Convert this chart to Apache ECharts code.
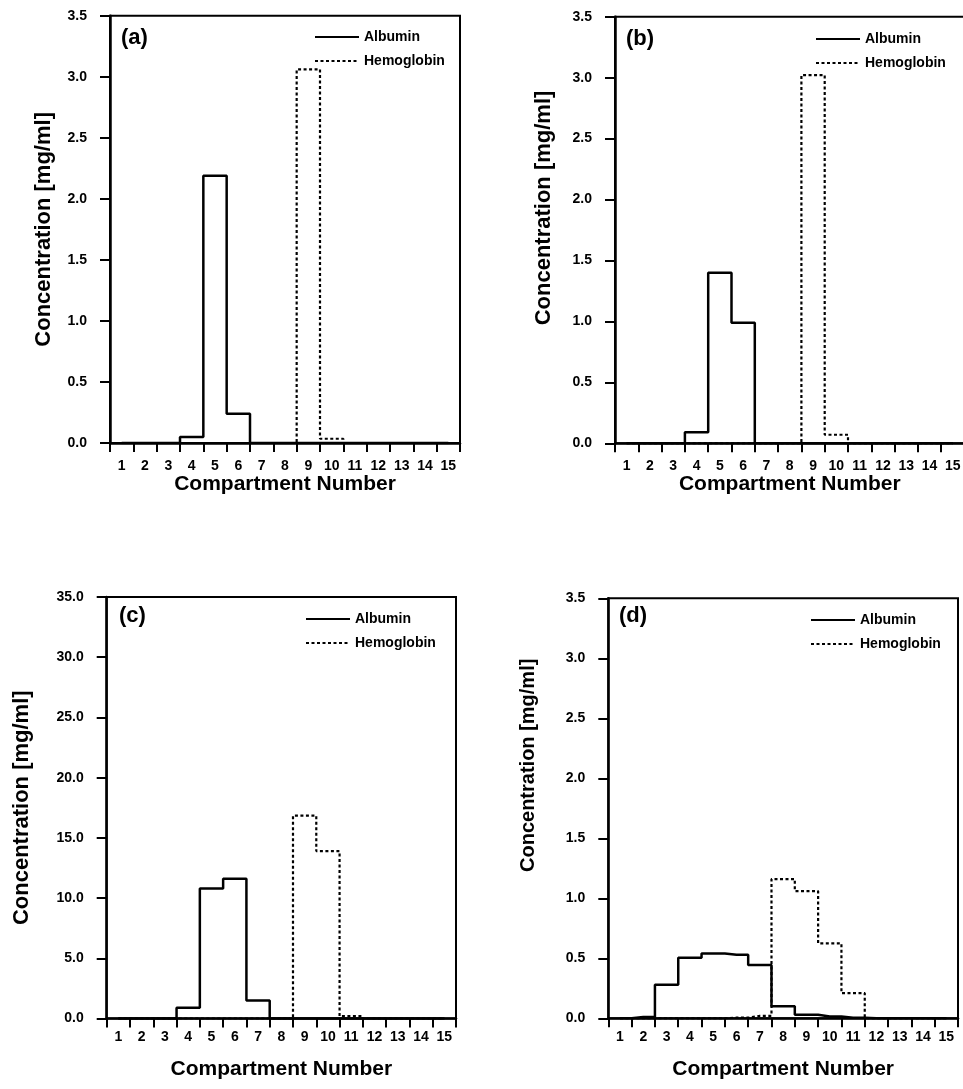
<!DOCTYPE html>
<html>
<head>
<meta charset="utf-8">
<title>Compartment concentration profiles</title>
<script src="https://cdn.jsdelivr.net/npm/echarts@6/dist/echarts.min.js"></script>
<style>
  html, body { margin: 0; padding: 0; background: #fff; }
  #chart { width: 963px; height: 1089px; }
</style>
</head>
<body>
<div id="chart"></div>
<script>
// Compartment numbers along the x axis
const compartments = ['1','2','3','4','5','6','7','8','9','10','11','12','13','14','15'];

// Concentration per compartment [mg/ml]
const albuminA    = [0, 0, 0, 0.05, 2.19, 0.24, 0, 0, 0, 0, 0, 0, 0, 0, 0];
const hemoglobinA = [0, 0, 0, 0, 0, 0, 0, 0, 3.06, 0.035, 0, 0, 0, 0, 0];

const albuminB    = [0, 0, 0, 0.09, 1.40, 0.99, 0, 0, 0, 0, 0, 0, 0, 0, 0];
const hemoglobinB = [0, 0, 0, 0, 0, 0, 0, 0, 3.02, 0.07, 0, 0, 0, 0, 0];

const albuminC    = [0, 0, 0, 0.9, 10.8, 11.6, 1.5, 0, 0, 0, 0, 0, 0, 0, 0];
const hemoglobinC = [0, 0, 0, 0, 0, 0, 0, 0, 16.85, 13.9, 0.2, 0, 0, 0, 0];

const albuminD    = [0, 0.01, 0.28, 0.505, 0.54, 0.53, 0.445, 0.10, 0.03, 0.015, 0.005, 0, 0, 0, 0];
const hemoglobinD = [0, 0, 0, 0, 0, 0.005, 0.02, 1.16, 1.06, 0.625, 0.21, 0, 0, 0, 0];

// Panel letters and y-axis ranges
const panelLabels = ['(a)', '(b)', '(c)', '(d)'];
const yMax = [3.5, 3.5, 35, 3.5];
const yStep = [0.5, 0.5, 5, 0.5];

const seriesNames = ['Albumin', 'Hemoglobin'];
const xTitle = 'Compartment Number';
const yTitle = 'Concentration [mg/ml]';

const FONT = '"Liberation Sans", Arial, Helvetica, sans-serif';

// Layout of each panel
const layout = [
  { grid: { left: 110, top: 15.7, width: 350, height: 427.3 },
    xLabelMargin: 16, xNameGap: 28, yNameGap: 55, yNameShift: 0, yNameSize: 22,
    legend: { left: 314, top: 30 }, tag: { left: 121, top: 27 } },
  { grid: { left: 615, top: 16.7, width: 349.5, height: 426.6 },
    xLabelMargin: 16, xNameGap: 28, yNameGap: 60, yNameShift: 22, yNameSize: 22,
    legend: { left: 815, top: 32 }, tag: { left: 626, top: 28 } },
  { grid: { left: 106.7, top: 597, width: 349.3, height: 421.5 },
    xLabelMargin: 12, xNameGap: 40, yNameGap: 74, yNameShift: 0, yNameSize: 22,
    legend: { left: 305, top: 612 }, tag: { left: 119, top: 605 } },
  { grid: { left: 608.3, top: 598.3, width: 349.7, height: 420 },
    xLabelMargin: 12, xNameGap: 40, yNameGap: 70, yNameShift: 43, yNameSize: 20,
    legend: { left: 810, top: 613 }, tag: { left: 619, top: 605 } }
];

const albumin = [albuminA, albuminB, albuminC, albuminD];
const hemoglobin = [hemoglobinA, hemoglobinB, hemoglobinC, hemoglobinD];

const grids = [], xAxes = [], yAxes = [], series = [], legends = [], titles = [];

layout.forEach((p, i) => {
  grids.push(Object.assign({
    show: true, borderColor: '#000', borderWidth: 2,
    backgroundColor: 'transparent', containLabel: false, outerBoundsMode: 'none'
  }, p.grid));

  xAxes.push({
    gridIndex: i, type: 'category', data: compartments, boundaryGap: true,
    name: xTitle, nameLocation: 'middle', nameGap: p.xNameGap,
    nameTextStyle: { fontFamily: FONT, fontSize: 21, fontWeight: 'bold', color: '#000' },
    axisLine: { show: true, lineStyle: { color: '#000', width: 2.5 } },
    axisTick: { show: true, inside: false, length: 9, interval: 0, lineStyle: { color: '#000', width: 2 } },
    axisLabel: { interval: 0, margin: p.xLabelMargin, fontFamily: FONT, fontSize: 14, fontWeight: 'bold', color: '#000' },
    splitLine: { show: false }
  });

  yAxes.push({
    gridIndex: i, type: 'value', min: 0, max: yMax[i], interval: yStep[i],
    name: yTitle, nameLocation: 'middle', nameGap: p.yNameGap,
    nameTextStyle: {
      fontFamily: FONT, fontSize: p.yNameSize, fontWeight: 'bold', color: '#000',
      padding: [0, 0, 0, p.yNameShift * 2]
    },
    axisLine: { show: true, lineStyle: { color: '#000', width: 2.5 } },
    axisTick: { show: true, inside: false, length: 10, lineStyle: { color: '#000', width: 2 } },
    axisLabel: {
      margin: 23, fontFamily: FONT, fontSize: 14, fontWeight: 'bold', color: '#000',
      formatter: v => v.toFixed(1)
    },
    splitLine: { show: false }
  });

  series.push({
    name: seriesNames[0], type: 'line', xAxisIndex: i, yAxisIndex: i,
    data: albumin[i], step: 'middle', symbol: 'none', showSymbol: false,
    lineStyle: { color: '#000', width: 2.5, type: 'solid' },
    itemStyle: { color: '#000' }, z: 3, animation: false, silent: true
  });
  series.push({
    name: seriesNames[1], type: 'line', xAxisIndex: i, yAxisIndex: i,
    data: hemoglobin[i], step: 'middle', symbol: 'none', showSymbol: false,
    lineStyle: { color: '#000', width: 2.2, type: [3, 2.5] },
    itemStyle: { color: '#000' }, z: 3, animation: false, silent: true
  });

  // Legend keys show only the line sample, no marker
  legends.push({
    data: seriesNames, orient: 'vertical', left: p.legend.left, top: p.legend.top,
    itemWidth: 44, itemHeight: 14, itemGap: 10, padding: 0, selectedMode: false,
    lineStyle: { width: 2 },
    itemStyle: { opacity: 0, borderWidth: 0 },
    textStyle: { fontFamily: FONT, fontSize: 14, fontWeight: 'bold', color: '#000', lineHeight: 14 }
  });

  titles.push({
    text: panelLabels[i], left: p.tag.left, top: p.tag.top, padding: 0,
    textStyle: { fontFamily: FONT, fontSize: 22, fontWeight: 'bold', color: '#000' }
  });
});

const chart = echarts.init(document.getElementById('chart'), null, { renderer: 'canvas' });
chart.setOption({
  animation: false,
  backgroundColor: '#fff',
  title: titles,
  legend: legends,
  grid: grids,
  xAxis: xAxes,
  yAxis: yAxes,
  series: series
});
</script>
</body>
</html>
